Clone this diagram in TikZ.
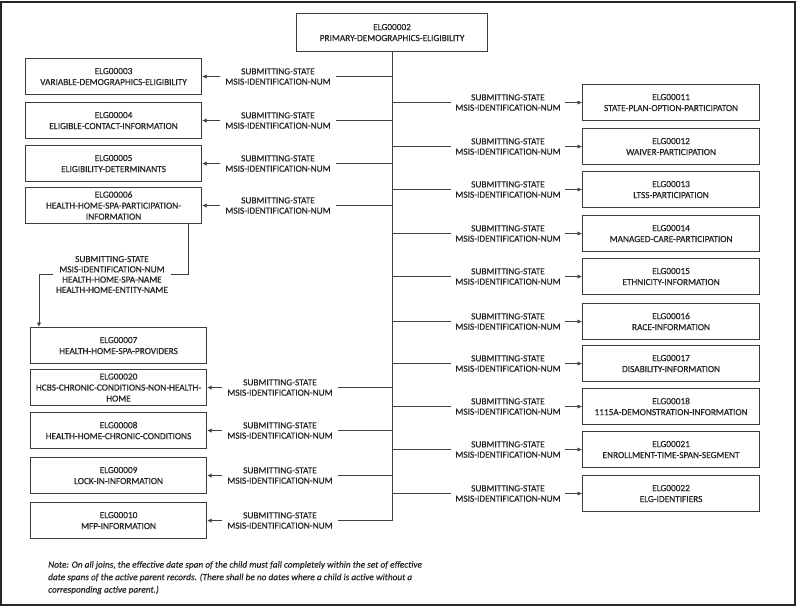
\documentclass[tikz,border=0pt]{standalone}
\usepackage{fontspec}
\setmainfont{Carlito}[FakeBold=0.6]
\usetikzlibrary{arrows.meta}
\definecolor{boxc}{HTML}{3C3C3C}
\definecolor{linec}{HTML}{404040}
\definecolor{txtc}{HTML}{262626}
\begin{document}
\begin{tikzpicture}[x=1pt,y=-1pt,
  box/.style={draw=boxc, line width=1.1pt, rectangle, inner sep=1pt, align=center,
    font=\fontsize{9.3}{11}\selectfont, text=txtc, anchor=north west},
  lbox/.style={box, minimum width=176, minimum height=36},
  rbox/.style={box, minimum width=177, minimum height=36},
  lbl/.style={inner xsep=5pt, inner ysep=0pt, align=center,
    font=\fontsize{9.3}{10.3}\selectfont, text=txtc},
  conn/.style={draw=linec, line width=0.9pt},
  arr/.style={conn, -{Latex[length=4.5pt,width=4.5pt]}},
  frame/.style={draw=black!85, line width=1.3pt}]
\path[use as bounding box] (0,0) rectangle (800,611);
\draw[frame] (1,2) rectangle (795,605);

% parent
\node[box, minimum width=191, minimum height=38] (e02) at (296,13) {ELG00002\\PRIMARY-DEMOGRAPHICS-ELIGIBILITY};

% left children
\node[lbox] (e03) at (25,58) {ELG00003\\VARIABLE-DEMOGRAPHICS-ELIGIBILITY};
\node[lbox] (e04) at (25,102) {ELG00004\\ELIGIBLE-CONTACT-INFORMATION};
\node[lbox] (e05) at (25,145) {ELG00005\\ELIGIBILITY-DETERMINANTS};
\node[lbox] (e06) at (25,187) {ELG00006\\HEALTH-HOME-SPA-PARTICIPATION-\\INFORMATION};
\node[lbox] (e07) at (30,327) {ELG00007\\HEALTH-HOME-SPA-PROVIDERS};
\node[lbox] (e20) at (30,369) {ELG00020\\HCBS-CHRONIC-CONDITIONS-NON-HEALTH-\\HOME};
\node[lbox] (e08) at (30,412) {ELG00008\\HEALTH-HOME-CHRONIC-CONDITIONS};
\node[lbox] (e09) at (30,457) {ELG00009\\LOCK-IN-INFORMATION};
\node[lbox] (e10) at (30,502) {ELG00010\\MFP-INFORMATION};

% right children
\node[rbox] (e11) at (582,84) {ELG00011\\STATE-PLAN-OPTION-PARTICIPATON};
\node[rbox] (e12) at (582,128) {ELG00012\\WAIVER-PARTICIPATION};
\node[rbox] (e13) at (582,171) {ELG00013\\LTSS-PARTICIPATION};
\node[rbox] (e14) at (582,215) {ELG00014\\MANAGED-CARE-PARTICIPATION};
\node[rbox] (e15) at (582,258) {ELG00015\\ETHNICITY-INFORMATION};
\node[rbox] (e16) at (582,303) {ELG00016\\RACE-INFORMATION};
\node[rbox] (e17) at (582,345) {ELG00017\\DISABILITY-INFORMATION};
\node[rbox] (e18) at (582,388) {ELG00018\\1115A-DEMONSTRATION-INFORMATION};
\node[rbox] (e21) at (582,431) {ELG00021\\ENROLLMENT-TIME-SPAN-SEGMENT};
\node[rbox] (e22) at (582,475) {ELG00022\\ELG-IDENTIFIERS};

% trunk
\coordinate (tb) at (e02.south |- e10.east);
\draw[conn] (e02.south) -- (tb);

% left connectors
\foreach \n/\cx in {03/278,04/278,05/278,06/278,20/280,08/280,09/280,10/280}{
  \node[lbl] (l\n) at (\cx,0 |- e\n.east) {SUBMITTING-STATE\\MSIS-IDENTIFICATION-NUM};
  \draw[conn] (e02.south |- l\n.east) -- (l\n.east);
  \draw[arr] (l\n.west) -- (e\n.east);
}

% right connectors
\foreach \n in {11,12,13,14,15,16,17,18,21,22}{
  \node[lbl, inner xsep=4pt] (l\n) at (508,0 |- e\n.west) {SUBMITTING-STATE\\MSIS-IDENTIFICATION-NUM};
  \draw[conn] (e02.south |- l\n.west) -- (l\n.west);
  \draw[arr] (l\n.east) -- (e\n.west);
}

% ELG00006 -> ELG00007
\node[lbl, inner xsep=3pt] (l67) at (112,274.5) {SUBMITTING-STATE\\MSIS-IDENTIFICATION-NUM\\HEALTH-HOME-SPA-NAME\\HEALTH-HOME-ENTITY-NAME};
\coordinate (c6) at (188,0 |- e06.south);
\draw[conn] (c6) -- (c6 |- l67.east) -- (l67.east);
\coordinate (c7) at (39,0 |- l67.west);
\draw[arr] (l67.west) -- (c7) -- (c7 |- e07.north);

% note
\node[anchor=north west, inner sep=0pt, align=left, text=txtc,
  font=\fontsize{9.3}{12.5}\selectfont\itshape] (note) at (48,561)
  {Note: On all joins, the effective date span of the child must fall completely within the set of effective\\
   date spans of the active parent records. (There shall be no dates where a child is active without a\\
   corresponding active parent.)};
\end{tikzpicture}
\end{document}
